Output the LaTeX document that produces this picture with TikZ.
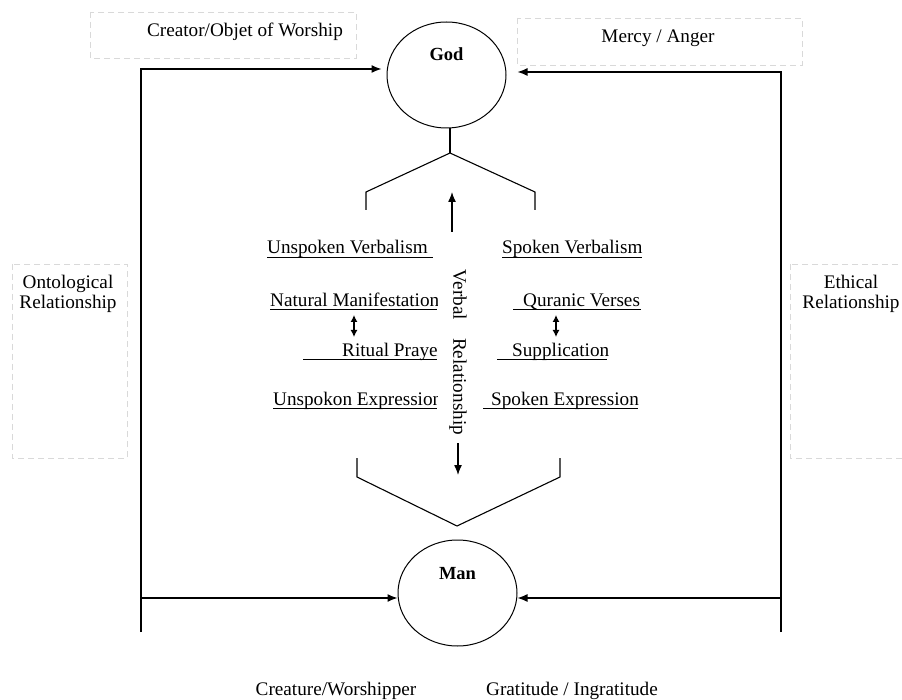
\documentclass[tikz,border=0pt]{standalone}
\usepackage{fontspec}
\setmainfont{Liberation Serif}
\usetikzlibrary{arrows.meta,shapes.geometric}

\tikzset{
  note/.style={draw=gray!30, dash pattern=on 6pt off 4pt, line width=0.8pt},
  being/.style={ellipse, draw, line width=1pt, minimum width=119pt, minimum height=106pt, inner sep=0pt},
  link/.style={line width=1.3pt, -{Latex[length=10pt,width=8pt]}},
  twoway/.style={line width=1.2pt, {Latex[length=7pt,width=7pt]}-{Latex[length=7pt,width=7pt]}},
  word/.style={font=\fontsize{19.2}{20}\selectfont, inner sep=0pt},
  uline/.style={line width=0.8pt},
}

\begin{document}
\begin{tikzpicture}[x=1pt,y=-1pt]
    \useasboundingbox (0,0) rectangle (902,700);

    % the dashed label boxes
    \draw[note] (90,12) rectangle (356,58);
    \draw[note] (517,18) rectangle (802,65);
    \draw[note] (12,264) rectangle (127,458);
    \draw[note] (790,264) rectangle (910,458);
    \node[word, anchor=base] (creator) at (245,37) {Creator/Objet of Worship};
    \node[word, anchor=base] (mercy) at (658,43) {Mercy / Anger};
    \node[word, anchor=base, align=center] (ontolog) at (68,309) {Ontological\\Relationship};
    \node[word, anchor=base, align=center] (ethical) at (851,309) {Ethical\\ Relationship};

    % God and Man
    \node[being] (god) at (446.5,75) {};
    \node[word, anchor=base, font=\fontsize{18.5}{20}\selectfont\bfseries] (godtxt) at (446.5,61) {God};
    \node[being] (man) at (457.5,593) {};
    \node[word, anchor=base, font=\fontsize{18.5}{20}\selectfont\bfseries] (mantxt) at (457.5,579) {Man};

    % the outer relationship lines
    \coordinate (ltop) at (141,69);
    \coordinate (lman) at (141,598);
    \coordinate (lbot) at (141,632);
    \coordinate (rtop) at (781,72);
    \coordinate (rman) at (781,598);
    \coordinate (rbot) at (781,632);
    \draw[link, shorten >=5pt] (lbot) -- (ltop) -- (ltop -| god.west);
    \draw[link, shorten >=11pt] (rbot) -- (rtop) -- (rtop -| god.east);
    \draw[link] (lman) -- (lman -| man.west);
    \draw[link] (rman) -- (rman -| man.east);

    % the two brackets
    \coordinate (fork) at (450,153);
    \coordinate (vee) at (457,526);
    \draw[line width=1.1pt] (god.south -| fork) -- (fork);
    \draw[line width=1.1pt] (366,210) -- (366,192) -- (fork) -- (535,192) -- (535,210);
    \draw[line width=1.1pt] (357,458) -- (357,477) -- (vee) -- (560,477) -- (560,458);

    % verbal relationship
    \node[word, rotate=-90] (verbal) at (458,352.5) {Verbal\hspace{18pt}Relationship};
    \draw[link] (452,232) -- (452,192);
    \draw[link] (458,443) -- (458,475);

    % unspoken side
    \node[word, anchor=base west] (unspverb) at (267,254) {Unspoken Verbalism};
    \begin{scope}
      \clip (250,220) rectangle (437,420);
      \node[word, anchor=base west] (natural) at (270,307) {Natural Manifestation};
      \node[word, anchor=base west] (ritual) at (342,357) {Ritual Prayer};
      \node[word, anchor=base west] (unspexpr) at (273,406) {Unspokon Expression};
    \end{scope}
    \draw[uline] (267,257) -- (433,257);
    \draw[uline] (270,309) -- (437,309);
    \draw[uline] (303,359) -- (437,359);
    \draw[uline] (273,408) -- (437,408);
    \draw[twoway] (354,315) -- (354,337);

    % spoken side
    \node[word, anchor=base west] (spokverb) at (502,254) {Spoken Verbalism};
    \node[word, anchor=base west] (quranic) at (523,307) {Quranic Verses};
    \node[word, anchor=base west] (supplic) at (512,357) {Supplication};
    \node[word, anchor=base west] (spokexpr) at (491,406) {Spoken Expression};
    \draw[uline] (502,257) -- (642,257);
    \draw[uline] (513,309) -- (641,309);
    \draw[uline] (497,359) -- (607,359);
    \draw[uline] (483,408) -- (638,408);
    \draw[twoway] (556,315) -- (556,337);

    % bottom labels
    \node[word, anchor=base] (creature) at (336,695) {Creature/Worshipper};
    \node[word, anchor=base] (gratitude) at (572,695) {Gratitude / Ingratitude};
\end{tikzpicture}
\end{document}
